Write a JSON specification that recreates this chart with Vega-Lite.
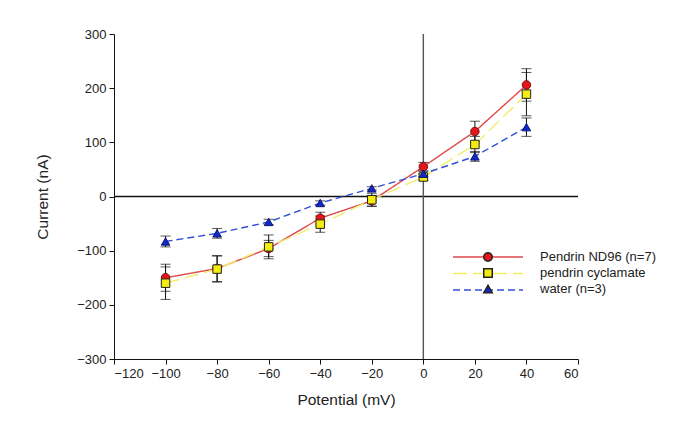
{
  "$schema": "https://vega.github.io/schema/vega-lite/v6.json",
  "width": 464,
  "height": 325,
  "autosize": {"type": "none"},
  "padding": {"left": 114, "top": 34, "right": 100, "bottom": 88},
  "background": "white",
  "config": {
    "view": {"stroke": null},
    "font": "Liberation Sans",
    "axis": {
      "grid": false,
      "labelFont": "Liberation Sans",
      "labelFontSize": 13,
      "labelColor": "#222",
      "titleFont": "Liberation Sans",
      "titleFontSize": 15.5,
      "titleFontWeight": "normal",
      "titleColor": "#222",
      "domainColor": "#111",
      "tickColor": "#111",
      "tickSize": 5,
      "labelPadding": 3
    },
    "legend": {
      "labelFont": "Liberation Sans",
      "labelFontSize": 13,
      "labelColor": "#222"
    }
  },
  "datasets": {
    "iv": [
      {"mV": -100, "nA": -150, "err": 25, "series": "Pendrin ND96 (n=7)"},
      {"mV": -80, "nA": -133, "err": 24, "series": "Pendrin ND96 (n=7)"},
      {"mV": -60, "nA": -96, "err": 15, "series": "Pendrin ND96 (n=7)"},
      {"mV": -40, "nA": -40, "err": 11, "series": "Pendrin ND96 (n=7)"},
      {"mV": -20, "nA": -8, "err": 10, "series": "Pendrin ND96 (n=7)"},
      {"mV": 0, "nA": 55, "err": 8, "series": "Pendrin ND96 (n=7)"},
      {"mV": 20, "nA": 120, "err": 19, "series": "Pendrin ND96 (n=7)"},
      {"mV": 40, "nA": 206, "err": 30, "series": "Pendrin ND96 (n=7)"},
      {"mV": -100, "nA": -160, "err": 30, "series": "pendrin cyclamate"},
      {"mV": -80, "nA": -134, "err": 24, "series": "pendrin cyclamate"},
      {"mV": -60, "nA": -93, "err": 22, "series": "pendrin cyclamate"},
      {"mV": -40, "nA": -51, "err": 15, "series": "pendrin cyclamate"},
      {"mV": -20, "nA": -6, "err": 12, "series": "pendrin cyclamate"},
      {"mV": 0, "nA": 36, "err": 6, "series": "pendrin cyclamate"},
      {"mV": 20, "nA": 96, "err": 15, "series": "pendrin cyclamate"},
      {"mV": 40, "nA": 189, "err": 40, "series": "pendrin cyclamate"},
      {"mV": -100, "nA": -83, "err": 10, "series": "water (n=3)"},
      {"mV": -80, "nA": -68, "err": 9, "series": "water (n=3)"},
      {"mV": -60, "nA": -47, "err": 5, "series": "water (n=3)"},
      {"mV": -40, "nA": -12, "err": 4, "series": "water (n=3)"},
      {"mV": -20, "nA": 15, "err": 3, "series": "water (n=3)"},
      {"mV": 0, "nA": 42, "err": 5, "series": "water (n=3)"},
      {"mV": 20, "nA": 74, "err": 9, "series": "water (n=3)"},
      {"mV": 40, "nA": 128, "err": 17, "series": "water (n=3)"}
    ],
    "zero": [{"v": 0}]
  },
  "layer": [
    {
      "data": {"name": "zero"},
      "mark": {"type": "rule", "color": "#111", "strokeWidth": 1.4},
      "encoding": {"y": {"field": "v", "type": "quantitative", "scale": {"domain": [-300, 300], "nice": false, "zero": false}, "title": "Current (nA)"}}
    },
    {
      "data": {"name": "zero"},
      "mark": {"type": "rule", "color": "#555", "strokeWidth": 1.4},
      "encoding": {"x": {"field": "v", "type": "quantitative", "scale": {"domain": [-120, 60], "nice": false, "zero": false}, "title": "Potential (mV)"}}
    },
    {
      "data": {"name": "iv"},
      "encoding": {
        "x": {
          "field": "mV", "type": "quantitative",
          "title": "Potential (mV)",
          "scale": {"domain": [-120, 60], "nice": false, "zero": false},
          "axis": {"values": [-120, -100, -80, -60, -40, -20, 0, 20, 40, 60], "titlePadding": 12}
        },
        "y": {
          "field": "nA", "type": "quantitative",
          "title": "Current (nA)",
          "scale": {"domain": [-300, 300], "nice": false, "zero": false},
          "axis": {"values": [-300, -200, -100, 0, 100, 200, 300], "titlePadding": 26}
        }
      },
      "layer": [
        {
          "mark": {"type": "line", "strokeWidth": 1.4},
          "encoding": {
            "stroke": {
              "field": "series", "type": "nominal",
              "scale": {"domain": ["Pendrin ND96 (n=7)", "pendrin cyclamate", "water (n=3)"], "range": ["#e04848", "#f2ee6a", "#3050d4"]},
              "legend": {
                "orient": "none", "legendX": 338, "legendY": 216.5,
                "title": null, "symbolType": "stroke", "symbolSize": 4900,
                "symbolStrokeWidth": 1.5, "clipHeight": 13, "rowPadding": 2.5,
                "labelExpr": "''", "padding": 0
              }
            },
            "strokeDash": {
              "field": "series", "type": "nominal",
              "scale": {"domain": ["Pendrin ND96 (n=7)", "pendrin cyclamate", "water (n=3)"], "range": [[1, 0], [14, 6], [7, 4]]},
              "legend": {
                "orient": "none", "legendX": 338, "legendY": 216.5,
                "title": null, "symbolType": "stroke", "symbolSize": 4900,
                "symbolStrokeWidth": 1.5, "clipHeight": 13, "rowPadding": 2.5,
                "labelExpr": "''", "padding": 0
              }
            }
          }
        },
        {
          "mark": {"type": "errorbar", "color": "#111", "thickness": 1, "ticks": {"size": 10, "thickness": 1, "color": "#111"}},
          "encoding": {
            "yError": {"field": "err"},
            "detail": {"field": "series"}
          }
        },
        {
          "mark": {"type": "point", "filled": false, "size": 72, "strokeWidth": 1, "opacity": 1, "fillOpacity": 1},
          "encoding": {
            "fill": {
              "field": "series", "type": "nominal",
              "scale": {"range": ["#e3161b", "#f4ec10", "#1328c8"]},
              "legend": {
                "orient": "none", "legendX": 367.5, "legendY": 216.5,
                "title": null, "symbolSize": 72, "rowPadding": 1,
                "labelOffset": 45.5, "padding": 0,
                "encode": {"symbols": {"update": {"stroke": {"value": "#2a2a2a"}, "strokeWidth": {"value": 1}, "opacity": {"value": 1}}}}
              }
            },
            "shape": {
              "field": "series", "type": "nominal",
              "scale": {"range": ["circle", "square", "triangle-up"]},
              "legend": {
                "orient": "none", "legendX": 367.5, "legendY": 216.5,
                "title": null, "symbolSize": 72, "rowPadding": 1,
                "labelOffset": 45.5, "padding": 0,
                "encode": {"symbols": {"update": {"stroke": {"value": "#2a2a2a"}, "strokeWidth": {"value": 1}, "opacity": {"value": 1}}}}
              }
            },
            "stroke": {
              "condition": [
                {"test": "datum.series === 'Pendrin ND96 (n=7)'", "value": "#7a1010"},
                {"test": "datum.series === 'water (n=3)'", "value": "#0c1670"}
              ],
              "value": "#222"
            }
          }
        }
      ]
    }
  ]
}
